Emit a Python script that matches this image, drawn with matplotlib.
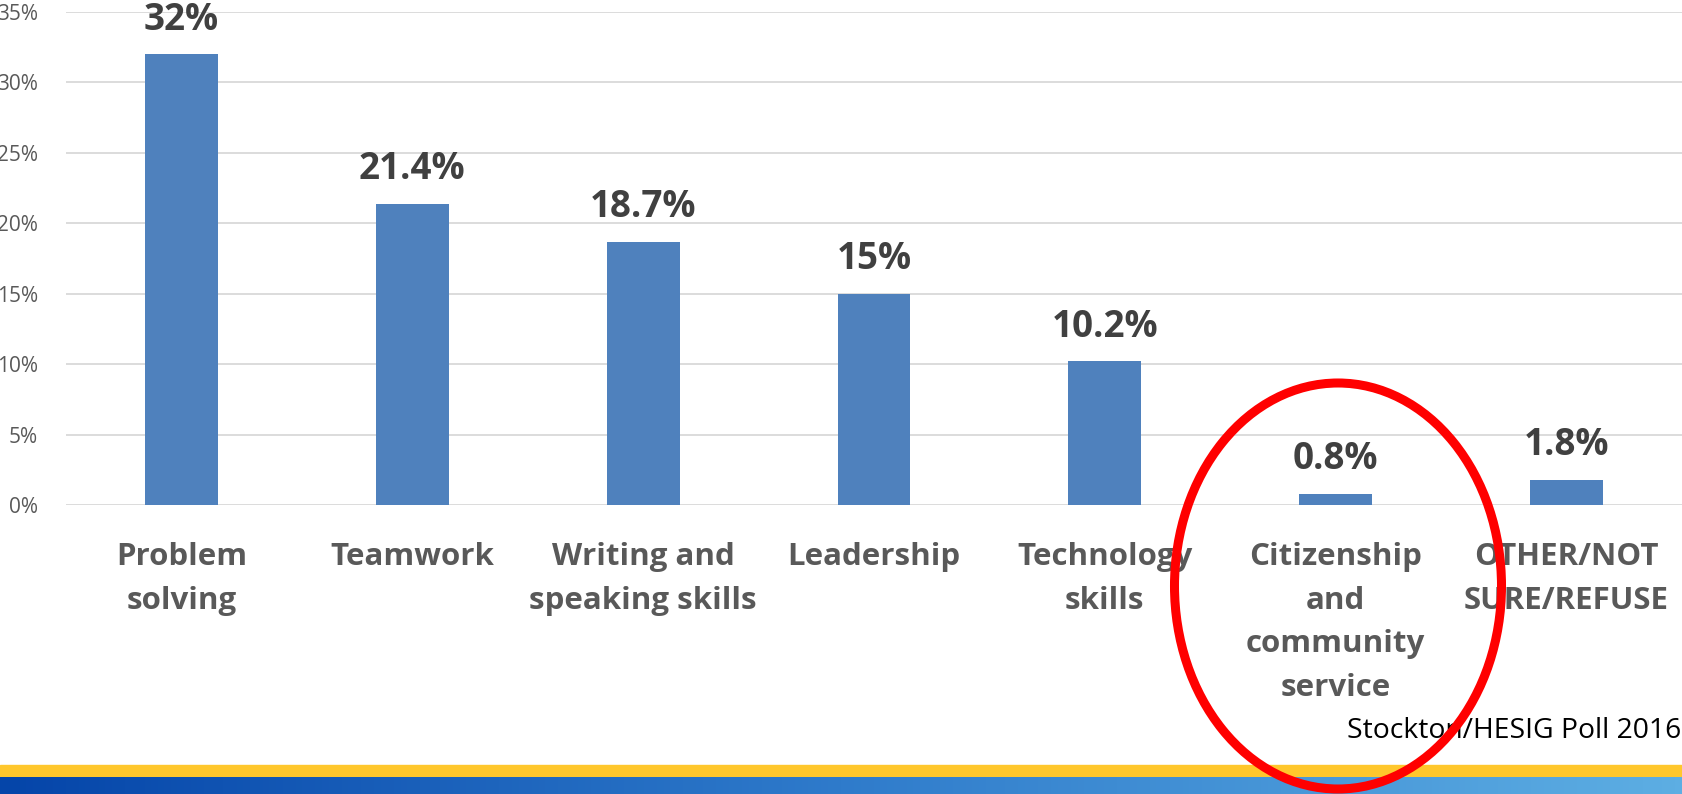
import matplotlib.pyplot as plt
import numpy as np
from matplotlib.patches import Ellipse, Rectangle
from matplotlib.colors import LinearSegmentedColormap

# skill categories and poll shares (%)
categories = ['Problem\nsolving', 'Teamwork', 'Writing and\nspeaking skills',
              'Leadership', 'Technology\nskills',
              'Citizenship\nand\ncommunity\nservice', 'OTHER/NOT\nSURE/REFUSE']
values = [32, 21.4, 18.7, 15, 10.2, 0.8, 1.8]
value_labels = ['32%', '21.4%', '18.7%', '15%', '10.2%', '0.8%', '1.8%']
y_ticks = [0, 5, 10, 15, 20, 25, 30, 35]
source = 'Stockton/HESIG Poll 2016'

W, H = 1682, 794
fig = plt.figure(figsize=(W / 100, H / 100), dpi=100)
plt.rcParams['font.family'] = ['Open Sans', 'DejaVu Sans']

# main axes (pixel placement: left 66, right 1682, top 12, bottom 505)
ax = fig.add_axes([66 / W, 1 - 505 / H, (1682 - 66) / W, (505 - 12) / H])
x = np.arange(len(categories))
ax.bar(x, values, width=0.316, color='#4F81BD', zorder=3)
ax.set_xlim(-0.5, len(categories) - 0.5)
ax.set_ylim(0, 35)
ax.set_yticks(y_ticks)
ax.set_yticklabels([f'{t}%' for t in y_ticks], color='#595959', fontsize=15)
ax.yaxis.grid(True, color='#D9D9D9', linewidth=1.3, zorder=0)
ax.set_xticks(x)
ax.set_xticklabels(categories, fontsize=22.5, fontweight='bold',
                   color='#595959', linespacing=1.6)
ax.tick_params(axis='both', length=0)
ax.tick_params(axis='x', pad=26.5)
ax.tick_params(axis='y', pad=20)
for s in ax.spines.values():
    s.set_visible(False)

for xi, v, lab in zip(x, values, value_labels):
    ax.annotate(lab, (xi, v), xytext=(0, 25), textcoords='offset points',
                ha='center', va='center', fontsize=26.5, fontweight='bold',
                color='#404040', zorder=4)

# source note
fig.text(0.9995, 1 - 731 / H, source, ha='right', va='center',
         fontsize=20.3, color='black')

# bottom bands: yellow stripe and blue gradient
fig.add_artist(Rectangle((0, 1 - 777 / H), 1, 12 / H, transform=fig.transFigure,
                         color='#FFC72C', zorder=2))
bax = fig.add_axes([0, 0, 1, 17 / H])
cmap = LinearSegmentedColormap.from_list('band', ['#0545A9', '#2F7BCB', '#5DAEE3'])
bax.imshow(np.linspace(0, 1, 256)[None, :], aspect='auto', cmap=cmap,
           extent=[0, 1, 0, 1])
bax.set_axis_off()
bax.set_zorder(2)

# red highlight ellipse
fig.add_artist(Ellipse((1338 / W, 1 - 586 / H), 327 / W, 406 / H,
                       transform=fig.transFigure, fill=False,
                       edgecolor='#FF0000', linewidth=6.5, zorder=10))

fig.savefig('out.png', dpi=100)
